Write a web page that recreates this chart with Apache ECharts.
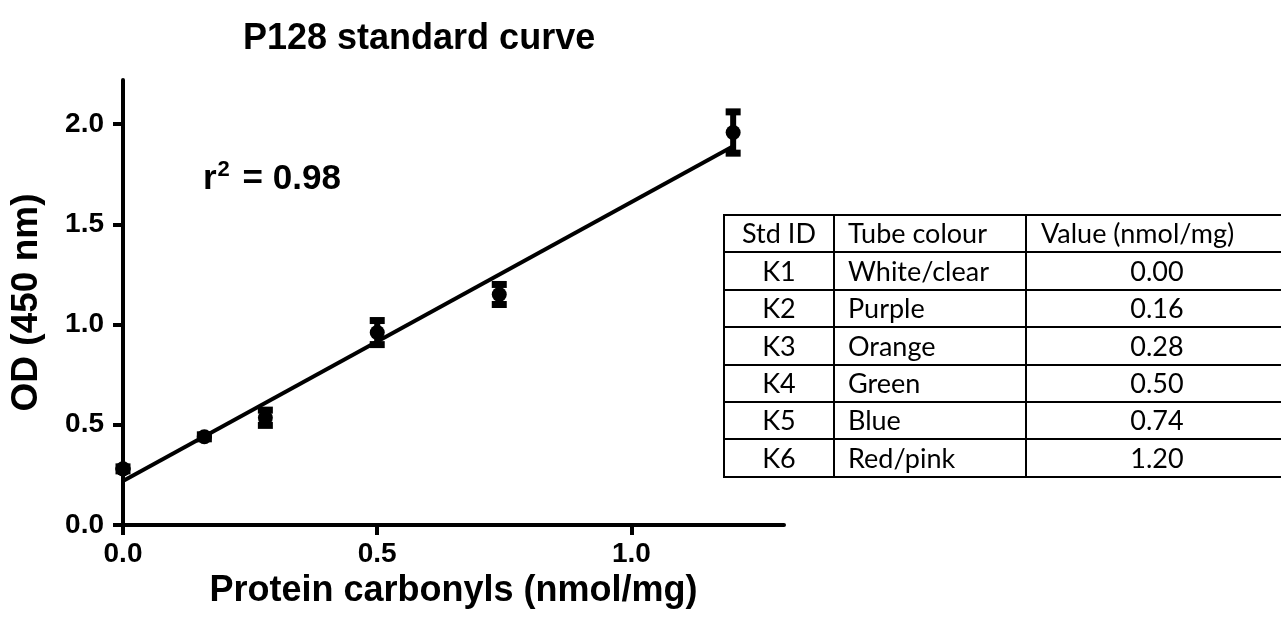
<!DOCTYPE html>
<html>
<head>
<meta charset="utf-8">
<script src="https://cdn.jsdelivr.net/npm/echarts@6/dist/echarts.min.js"></script>
<style>html,body{margin:0;padding:0;background:#fff;}#chart{width:1281px;height:628px;}</style>
</head>
<body>
<div id="chart"></div>
<script>
// ---- data ----
const carbonyls = [0.00, 0.16, 0.28, 0.50, 0.74, 1.20];      // x, nmol/mg
const odMean    = [0.28, 0.44, 0.535, 0.96, 1.15, 1.958];     // OD 450 nm
const odSD      = [0.01, 0.01, 0.038, 0.06, 0.05, 0.103];     // error bar half-length
const fitX      = [0.00, 1.20];                               // regression line ends
const fitY      = [0.22, 1.89];
const yTicks    = [0, 0.5, 1.0, 1.5, 2.0];
const xTicks    = [0, 0.5, 1.0];
const r2Text    = '0.98';
const tableHeaders = ['Std ID', 'Tube colour', 'Value (nmol/mg)'];
const tableIds     = ['K1', 'K2', 'K3', 'K4', 'K5', 'K6'];
const tableColours = ['White/clear', 'Purple', 'Orange', 'Green', 'Blue', 'Red/pink'];
const tableValues  = ['0.00', '0.16', '0.28', '0.50', '0.74', '1.20'];

const chart = echarts.init(document.getElementById('chart'), null, {renderer: 'canvas'});

const points = carbonyls.map((x, i) => [x, odMean[i]]);
const errData = carbonyls.map((x, i) => [x, odMean[i] - odSD[i], odMean[i] + odSD[i]]);
const fitData = fitX.map((x, i) => [x, fitY[i]]);

// table graphics
const T = {top: 215, rowH: 37.4, cols: [724, 834, 1026, 1290], font: 27};
const tFont = T.font + 'px Lato, "Open Sans", sans-serif';
const tableEls = [];
const nRows = tableIds.length + 1;
const tBottom = T.top + nRows * T.rowH;
for (let r = 0; r <= nRows; r++) {
  const y = Math.round(T.top + r * T.rowH);
  tableEls.push({type: 'line', shape: {x1: T.cols[0] - 1, y1: y, x2: T.cols[3], y2: y}, style: {stroke: '#000', lineWidth: 2}});
}
T.cols.forEach(x => {
  tableEls.push({type: 'line', shape: {x1: x, y1: T.top, x2: x, y2: tBottom}, style: {stroke: '#000', lineWidth: 2}});
});
const rows = [tableHeaders].concat(tableIds.map((id, i) => [id, tableColours[i], tableValues[i]]));
rows.forEach((row, r) => {
  const cy = T.top + r * T.rowH + T.rowH / 2 + 1;
  const isHead = r === 0;
  tableEls.push({type: 'text', x: (T.cols[0] + T.cols[1]) / 2, y: cy,
    style: {text: row[0], fill: '#000', font: tFont, textAlign: 'center', textVerticalAlign: 'middle'}});
  tableEls.push({type: 'text', x: T.cols[1] + 14, y: cy,
    style: {text: row[1], fill: '#000', font: tFont, textAlign: 'left', textVerticalAlign: 'middle'}});
  tableEls.push({type: 'text', x: isHead ? T.cols[2] + 15 : 1157, y: cy,
    style: {text: row[2], fill: '#000', font: tFont, textAlign: isHead ? 'left' : 'center', textVerticalAlign: 'middle'}});
});

const boldFont = '"Liberation Sans", Arial, sans-serif';

const option = {
  backgroundColor: '#ffffff',
  animation: false,
  title: {
    text: 'P128 standard curve',
    left: 238, top: 16,
    textStyle: {fontFamily: boldFont, fontWeight: 'bold', fontSize: 36, color: '#000'}
  },
  grid: {left: 122, right: 497, top: 80, bottom: 103},
  xAxis: {
    type: 'value', min: 0, max: 1.3,
    name: 'Protein carbonyls (nmol/mg)', nameLocation: 'middle', nameGap: 48,
    nameTextStyle: {fontFamily: boldFont, fontWeight: 'bold', fontSize: 36, color: '#000'},
    axisLine: {lineStyle: {color: '#000', width: 4}},
    axisTick: {show: true, customValues: xTicks, length: 10, lineStyle: {color: '#000', width: 4}},
    axisLabel: {customValues: xTicks, margin: 15, fontFamily: boldFont, fontWeight: 'bold', fontSize: 28, color: '#000',
      formatter: v => v.toFixed(1)},
    splitLine: {show: false}
  },
  yAxis: {
    type: 'value', min: 0, max: 2.22,
    name: 'OD (450 nm)', nameLocation: 'middle', nameGap: 78, nameRotate: 90,
    nameTextStyle: {fontFamily: boldFont, fontWeight: 'bold', fontSize: 37, color: '#000'},
    axisLine: {show: true, lineStyle: {color: '#000', width: 4}},
    axisTick: {show: true, customValues: yTicks, length: 10, lineStyle: {color: '#000', width: 4}},
    axisLabel: {customValues: yTicks, margin: 19, fontFamily: boldFont, fontWeight: 'bold', fontSize: 28, color: '#000',
      formatter: v => v.toFixed(1)},
    splitLine: {show: false}
  },
  graphic: [
    {type: 'text', left: 203, top: 159, z: 10,
      style: {
        text: '{r|r}{s|2}{r| = ' + r2Text + '}',
        rich: {
          r: {fontFamily: boldFont, fontWeight: 'bold', fontSize: 35, fill: '#000', verticalAlign: 'bottom'},
          s: {fontFamily: boldFont, fontWeight: 'bold', fontSize: 22, fill: '#000', verticalAlign: 'top', padding: [0, 3, 16, 1]}
        }
      }
    },
    {type: 'group', children: tableEls}
  ],
  series: [
    {
      type: 'line', data: fitData, symbol: 'none', clip: false,
      lineStyle: {color: '#000', width: 4}, z: 2
    },
    {
      type: 'custom', data: errData, z: 3, clip: false,
      renderItem: (params, api) => {
        const x = api.value(0);
        const lo = api.coord([x, api.value(1)]);
        const hi = api.coord([x, api.value(2)]);
        const cap = 7.5;
        return {type: 'group', children: [
          {type: 'line', shape: {x1: lo[0], y1: lo[1], x2: hi[0], y2: hi[1]}, style: {stroke: '#000', lineWidth: 6}},
          {type: 'line', shape: {x1: lo[0] - cap, y1: lo[1], x2: lo[0] + cap, y2: lo[1]}, style: {stroke: '#000', lineWidth: 7}},
          {type: 'line', shape: {x1: hi[0] - cap, y1: hi[1], x2: hi[0] + cap, y2: hi[1]}, style: {stroke: '#000', lineWidth: 7}}
        ]};
      }
    },
    {
      type: 'scatter', data: points, symbol: 'circle', symbolSize: 15, clip: false,
      itemStyle: {color: '#000', opacity: 1}, z: 4
    }
  ]
};
chart.setOption(option);
</script>
</body>
</html>
